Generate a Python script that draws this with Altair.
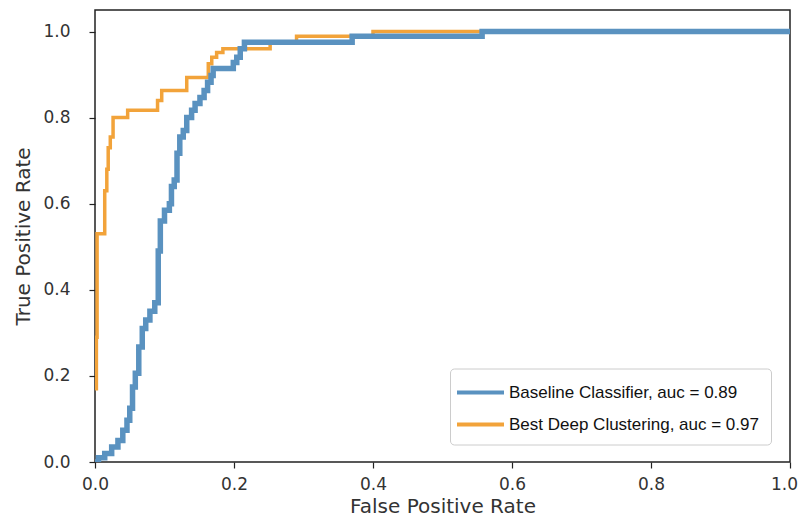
import altair as alt
import pandas as pd

series_names = ["Baseline Classifier, auc = 0.89", "Best Deep Clustering, auc = 0.97"]
series_colors = ["#5a92c0", "#f2a33a"]

base_fpr = [0.0, 0.005, 0.005, 0.014, 0.014, 0.024, 0.024, 0.033, 0.033, 0.04, 0.04, 0.046,
            0.046, 0.05, 0.05, 0.054, 0.054, 0.058, 0.058, 0.063, 0.063, 0.068, 0.068, 0.073,
            0.073, 0.079, 0.079, 0.086, 0.086, 0.091, 0.091, 0.094, 0.094, 0.1, 0.1, 0.107,
            0.107, 0.11, 0.11, 0.114, 0.114, 0.118, 0.118, 0.122, 0.122, 0.127, 0.127, 0.132,
            0.132, 0.139, 0.139, 0.144, 0.144, 0.151, 0.151, 0.157, 0.157, 0.162, 0.162, 0.167,
            0.167, 0.17, 0.17, 0.199, 0.199, 0.204, 0.204, 0.209, 0.209, 0.215, 0.215, 0.37,
            0.37, 0.557, 0.557, 1.0]
base_tpr = [0.0, 0.0, 0.01, 0.01, 0.02, 0.02, 0.035, 0.035, 0.05, 0.05, 0.074, 0.074,
            0.097, 0.097, 0.125, 0.125, 0.174, 0.174, 0.206, 0.206, 0.267, 0.267, 0.31, 0.31,
            0.33, 0.33, 0.35, 0.35, 0.37, 0.37, 0.49, 0.49, 0.56, 0.56, 0.585, 0.585,
            0.6, 0.6, 0.64, 0.64, 0.655, 0.655, 0.717, 0.717, 0.755, 0.755, 0.77, 0.77,
            0.8, 0.8, 0.817, 0.817, 0.833, 0.833, 0.847, 0.847, 0.863, 0.863, 0.882, 0.882,
            0.898, 0.898, 0.914, 0.914, 0.928, 0.928, 0.94, 0.94, 0.96, 0.96, 0.975, 0.975,
            0.989, 0.989, 1.0, 1.0]

deep_fpr = [0.0, 0.002, 0.002, 0.003, 0.003, 0.014, 0.014, 0.017, 0.017, 0.019, 0.019, 0.022,
            0.022, 0.026, 0.026, 0.047, 0.047, 0.09, 0.09, 0.096, 0.096, 0.132, 0.132, 0.163,
            0.163, 0.168, 0.168, 0.175, 0.175, 0.184, 0.184, 0.252, 0.252, 0.29, 0.29, 0.40,
            0.40, 1.0]
deep_tpr = [0.17, 0.17, 0.29, 0.29, 0.53, 0.53, 0.63, 0.63, 0.68, 0.68, 0.73, 0.73,
            0.755, 0.755, 0.8, 0.8, 0.817, 0.817, 0.84, 0.84, 0.863, 0.863, 0.893, 0.893,
            0.925, 0.925, 0.94, 0.94, 0.951, 0.951, 0.96, 0.96, 0.975, 0.975, 0.989, 0.989,
            1.0, 1.0]

tick_values = [0.0, 0.2, 0.4, 0.6, 0.8, 1.0]

df_base = pd.DataFrame({"fpr": base_fpr, "tpr": base_tpr, "series": series_names[0],
                        "idx": list(range(len(base_fpr)))})
df_deep = pd.DataFrame({"fpr": deep_fpr, "tpr": deep_tpr, "series": series_names[1],
                        "idx": list(range(len(deep_fpr)))})

color = alt.Color(
    "series:N",
    scale=alt.Scale(domain=series_names, range=series_colors),
    legend=alt.Legend(
        title=None,
        orient="none",
        legendX=355,
        legendY=358.5,
        fillColor="white",
        strokeColor="#cccccc",
        cornerRadius=4,
        padding=12,
        symbolType="M-1.7,0H3.0",
        symbolSize=400,
        symbolStrokeWidth=4,
        labelFont="Liberation Sans",
        labelFontSize=17,
        labelColor="#111",
        labelOffset=23,
        labelLimit=500,
        rowPadding=12,
        labelExpr="datum.label + '\u00a0\u00a0\u00a0\u00a0\u00a0\u00a0\u00a0\u00a0\u00a0\u00a0\u00a0\u00a0\u00a0\u00a0'",
    ),
)

x = alt.X("fpr:Q", scale=alt.Scale(domain=[0, 1], nice=False, zero=False),
          axis=alt.Axis(title="False Positive Rate", values=tick_values, format=".1f",
                        labelFlush=False, labelOverlap=False,
                        titleY=54, titleBaseline="bottom",
                        labelOffset={"condition": {"test": "datum.value == 1", "value": -6},
                                     "value": 0}))
y = alt.Y("tpr:Q", scale=alt.Scale(domain=[0, 1.05], nice=False, zero=False),
          axis=alt.Axis(title="True Positive Rate", values=tick_values, format=".1f",
                        labelFlush=False, labelOverlap=False))

deep = alt.Chart(df_deep).mark_line(strokeWidth=3.5, clip=True).encode(
    x=x, y=y, color=color, order="idx:Q")
base = alt.Chart(df_base).mark_line(strokeWidth=5.5, clip=True).encode(
    x=x, y=y, color=color, order="idx:Q")

chart = alt.layer(deep, base).properties(
    width=695, height=452,
    autosize=alt.AutoSizeParams(type="none"),
    padding={"left": 87, "top": 2, "right": 10, "bottom": 56},
).configure_view(
    stroke="#222", strokeWidth=1.5
).configure_axis(
    grid=False,
    domain=False,
    tickColor="#222",
    tickSize=6,
    tickWidth=1.2,
    labelFont="DejaVu Sans",
    labelFontSize=17,
    labelColor="#333",
    titleFont="DejaVu Sans",
    titleFontSize=20,
    titleFontWeight="normal",
    titleColor="#333",
).configure_axisX(
    labelPadding=8
).configure_axisY(
    labelPadding=19, titlePadding=9
)

chart.save("out.html", embed_options={"renderer": "svg", "actions": False})
